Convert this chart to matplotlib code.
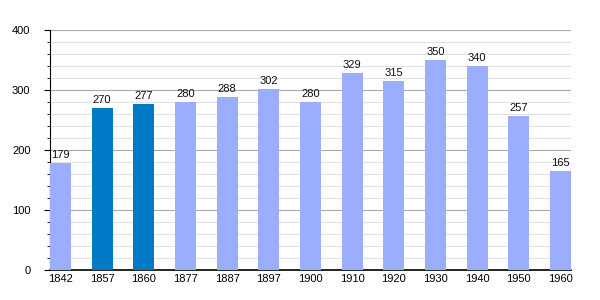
import matplotlib
matplotlib.use("Agg")
import matplotlib.pyplot as plt
from matplotlib.ticker import MultipleLocator

plt.rcParams["font.family"] = ["Liberation Sans", "DejaVu Sans"]

years = ["1842", "1857", "1860", "1877", "1887", "1897", "1900", "1910", "1920", "1930", "1940", "1950", "1960"]
values = [179, 270, 277, 280, 288, 302, 280, 329, 315, 350, 340, 257, 165]
highlight = [False, True, True, False, False, False, False, False, False, False, False, False, False]

light = "#9badfd"
dark = "#0079c6"

fig = plt.figure(figsize=(6, 3), dpi=100)
ax = fig.add_axes([50/600, 30/300, 521/600, 240/300])
x = list(range(len(years)))
colors = [dark if h else light for h in highlight]
ax.bar(x, values, width=0.5, color=colors, zorder=3)
for xi, v in zip(x, values):
    ax.text(xi, v + 5, str(v), ha="center", va="bottom", fontsize=8, color="#111111", zorder=4)

ax.set_xlim(-0.25, len(years) - 0.75)
ax.set_ylim(0, 400)
ax.yaxis.set_major_locator(MultipleLocator(100))
ax.yaxis.set_minor_locator(MultipleLocator(20))
ax.grid(which="major", axis="y", color="#aaaaaa", linewidth=0.8, zorder=0)
ax.grid(which="minor", axis="y", color="#e2e2e2", linewidth=0.8, zorder=0)
ax.set_xticks(x)
ax.set_xticklabels(years)
ax.tick_params(axis="x", length=0, labelsize=8, pad=3)
ax.tick_params(axis="y", which="major", length=4, labelsize=8, pad=10)
ax.tick_params(axis="y", which="minor", length=2)
for s in ["top", "right"]:
    ax.spines[s].set_visible(False)
ax.spines["left"].set_color("black")
ax.spines["bottom"].set_color("black")
ax.spines["bottom"].set_linewidth(1.2)
fig.savefig("out.png", dpi=100)
